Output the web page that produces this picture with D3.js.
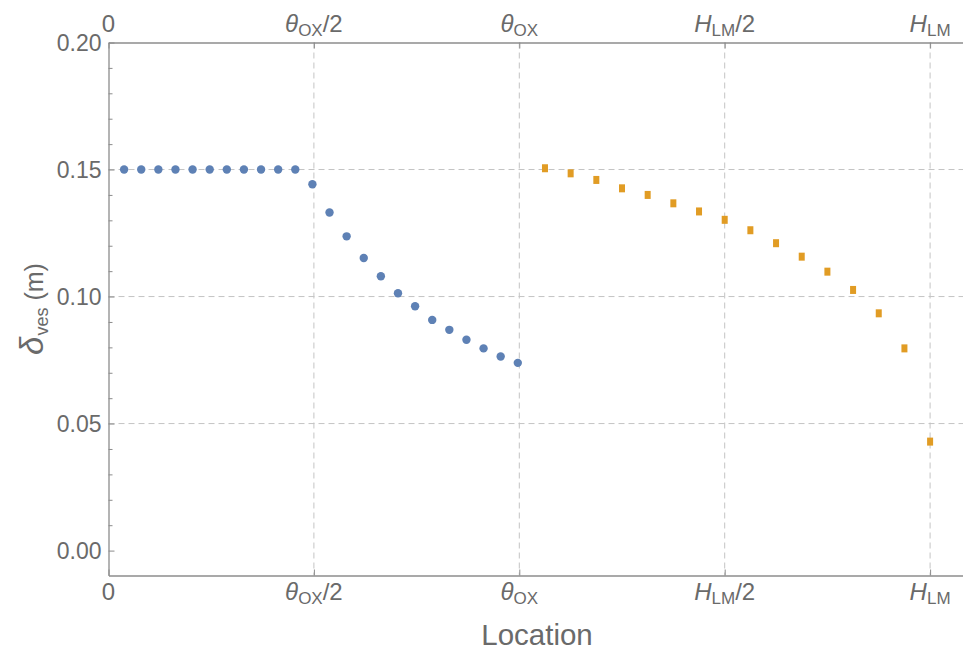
<!DOCTYPE html>
<html><head><meta charset="utf-8">
<script src="https://cdn.jsdelivr.net/npm/d3@7"></script>
<style>body{margin:0;background:#fff}svg{display:block}</style>
</head><body>
<script>
// ---- data ----
// location in units: 0, θOX/2 = 1, θOX = 2, HLM/2 = 3, HLM = 4
const xTickValues = [0, 1, 2, 3, 4];
const xTickLabels = [
  [{t:"0"}],
  [{t:"θ", it:true},{t:"OX", sub:true},{t:"/2"}],
  [{t:"θ", it:true},{t:"OX", sub:true}],
  [{t:"H", it:true},{t:"LM", sub:true},{t:"/2"}],
  [{t:"H", it:true},{t:"LM", sub:true}]
];
const yTickValues = [0.00, 0.05, 0.10, 0.15, 0.20];
const yTickLabels = ["0.00", "0.05", "0.10", "0.15", "0.20"];
const yMinorValues = [0.01,0.02,0.03,0.04,0.06,0.07,0.08,0.09,0.11,0.12,0.13,0.14,0.16,0.17,0.18,0.19];

// blue series: step i of 24 over [0, θOX]
const blueStep = [1,2,3,4,5,6,7,8,9,10,11,12,13,14,15,16,17,18,19,20,21,22,23,24];
const blueValue = [0.150,0.150,0.150,0.150,0.150,0.150,0.150,0.150,0.150,0.150,0.150,
  0.1442,0.1331,0.1237,0.1152,0.1080,0.1013,0.0962,0.0908,0.0869,0.0830,0.0796,0.0764,0.0739];
// orange series: step k of 16 over [θOX, HLM]
const orangeStep = [1,2,3,4,5,6,7,8,9,10,11,12,13,14,15,16];
const orangeValue = [0.1505,0.1485,0.1459,0.1426,0.1400,0.1367,0.1335,0.1302,
  0.1261,0.1210,0.1157,0.1098,0.1026,0.0934,0.0796,0.0429];

// ---- layout ----
const W = 963, H = 650;
const mLeft = 108.5, mTop = 42.5, mBottom = 575.5;
const unitPx = 205.4;
const svg = d3.select("body").append("svg").attr("width", W).attr("height", H)
  .style("font-family", "'Liberation Sans', Arial, sans-serif");

const x = d3.scaleLinear().domain([0, 4.2]).range([mLeft, mLeft + 4.2*unitPx]);
const y = d3.scaleLinear().domain([-0.0098, 0.20]).range([mBottom, mTop]);
const blueLoc = d3.scaleLinear().domain([0, 24]).range([0, 2]);
const orangeLoc = d3.scaleLinear().domain([0, 16]).range([2, 4]);

const gridColor = "#c4c4c4", frameColor = "#8c8c8c", textColor = "#6a6a6a";

// grid
svg.append("g").selectAll("line").data([0.05,0.10,0.15]).join("line")
  .attr("x1", mLeft).attr("x2", W).attr("y1", d => y(d)).attr("y2", d => y(d))
  .attr("stroke", gridColor).attr("stroke-width", 1).attr("stroke-dasharray", "6,4");
svg.append("g").selectAll("line").data(xTickValues.slice(1)).join("line")
  .attr("x1", d => x(d)).attr("x2", d => x(d)).attr("y1", mTop).attr("y2", mBottom)
  .attr("stroke", gridColor).attr("stroke-width", 1).attr("stroke-dasharray", "6,4");

// axes (frame) using d3 axes with inward ticks
const noLabel = () => "";
const axBottom = svg.append("g").attr("transform", `translate(0,${mBottom})`)
  .call(d3.axisTop(x).tickValues(xTickValues).tickSize(6).tickSizeOuter(0).tickFormat(noLabel));
const axTop = svg.append("g").attr("transform", `translate(0,${mTop})`)
  .call(d3.axisBottom(x).tickValues(xTickValues).tickSize(6).tickSizeOuter(0).tickFormat(noLabel));
const axLeft = svg.append("g").attr("transform", `translate(${mLeft},0)`)
  .call(d3.axisRight(y).tickValues(yTickValues).tickSize(6).tickSizeOuter(0).tickFormat(noLabel));
const axLeftMinor = svg.append("g").attr("transform", `translate(${mLeft},0)`)
  .call(d3.axisRight(y).tickValues(yMinorValues).tickSize(4).tickSizeOuter(0).tickFormat(noLabel));
[axBottom, axTop, axLeft, axLeftMinor].forEach(g => {
  g.selectAll("path.domain").attr("stroke", frameColor).attr("stroke-width", 1.3);
  g.selectAll(".tick line").attr("stroke", frameColor).attr("stroke-width", 1);
});
axLeftMinor.select("path.domain").remove();

// x tick labels
function xLabels(baseY) {
  xTickValues.forEach((v, i) => {
    const t = svg.append("text").attr("x", x(v)).attr("y", baseY)
      .attr("text-anchor", "middle").attr("fill", textColor).attr("font-size", 24);
    let shifted = false;
    xTickLabels[i].forEach(p => {
      const ts = t.append("tspan").text(p.t);
      if (p.it) ts.attr("font-style", "italic");
      if (p.sub) { ts.attr("font-size", 17).attr("dy", 4); shifted = true; }
      else if (shifted) { ts.attr("dy", -4); shifted = false; }
    });
  });
}
xLabels(32);
xLabels(600);

// y tick labels
svg.append("g").selectAll("text").data(yTickValues).join("text")
  .attr("x", mLeft - 7).attr("y", d => y(d)).attr("dy", "0.36em")
  .attr("text-anchor", "end").attr("fill", textColor).attr("font-size", 23)
  .text((d, i) => yTickLabels[i]);

// axis titles
svg.append("text").attr("x", 537).attr("y", 645).attr("text-anchor", "middle")
  .attr("fill", textColor).attr("font-size", 29.5).text("Location");
const yl = svg.append("text").attr("transform", "translate(43,309) rotate(-90)")
  .attr("text-anchor", "middle").attr("fill", textColor).attr("font-size", 25);
yl.append("tspan").attr("font-style", "italic").attr("font-size", 33).text("δ");
yl.append("tspan").attr("font-size", 18).attr("dy", 5).attr("dx", 1).text("ves");
yl.append("tspan").attr("dy", -5).attr("dx", 7).text("(m)");

// points
svg.append("g").selectAll("circle").data(blueStep).join("circle")
  .attr("cx", d => x(blueLoc(d)) - 1.5).attr("cy", (d, i) => y(blueValue[i]))
  .attr("r", 4.2).attr("fill", "#5E81B5");
svg.append("g").selectAll("rect").data(orangeStep).join("rect")
  .attr("x", d => x(orangeLoc(d)) - 3).attr("y", (d, i) => y(orangeValue[i]) - 4)
  .attr("width", 6).attr("height", 8).attr("fill", "#E19C24");
</script>
</body></html>
